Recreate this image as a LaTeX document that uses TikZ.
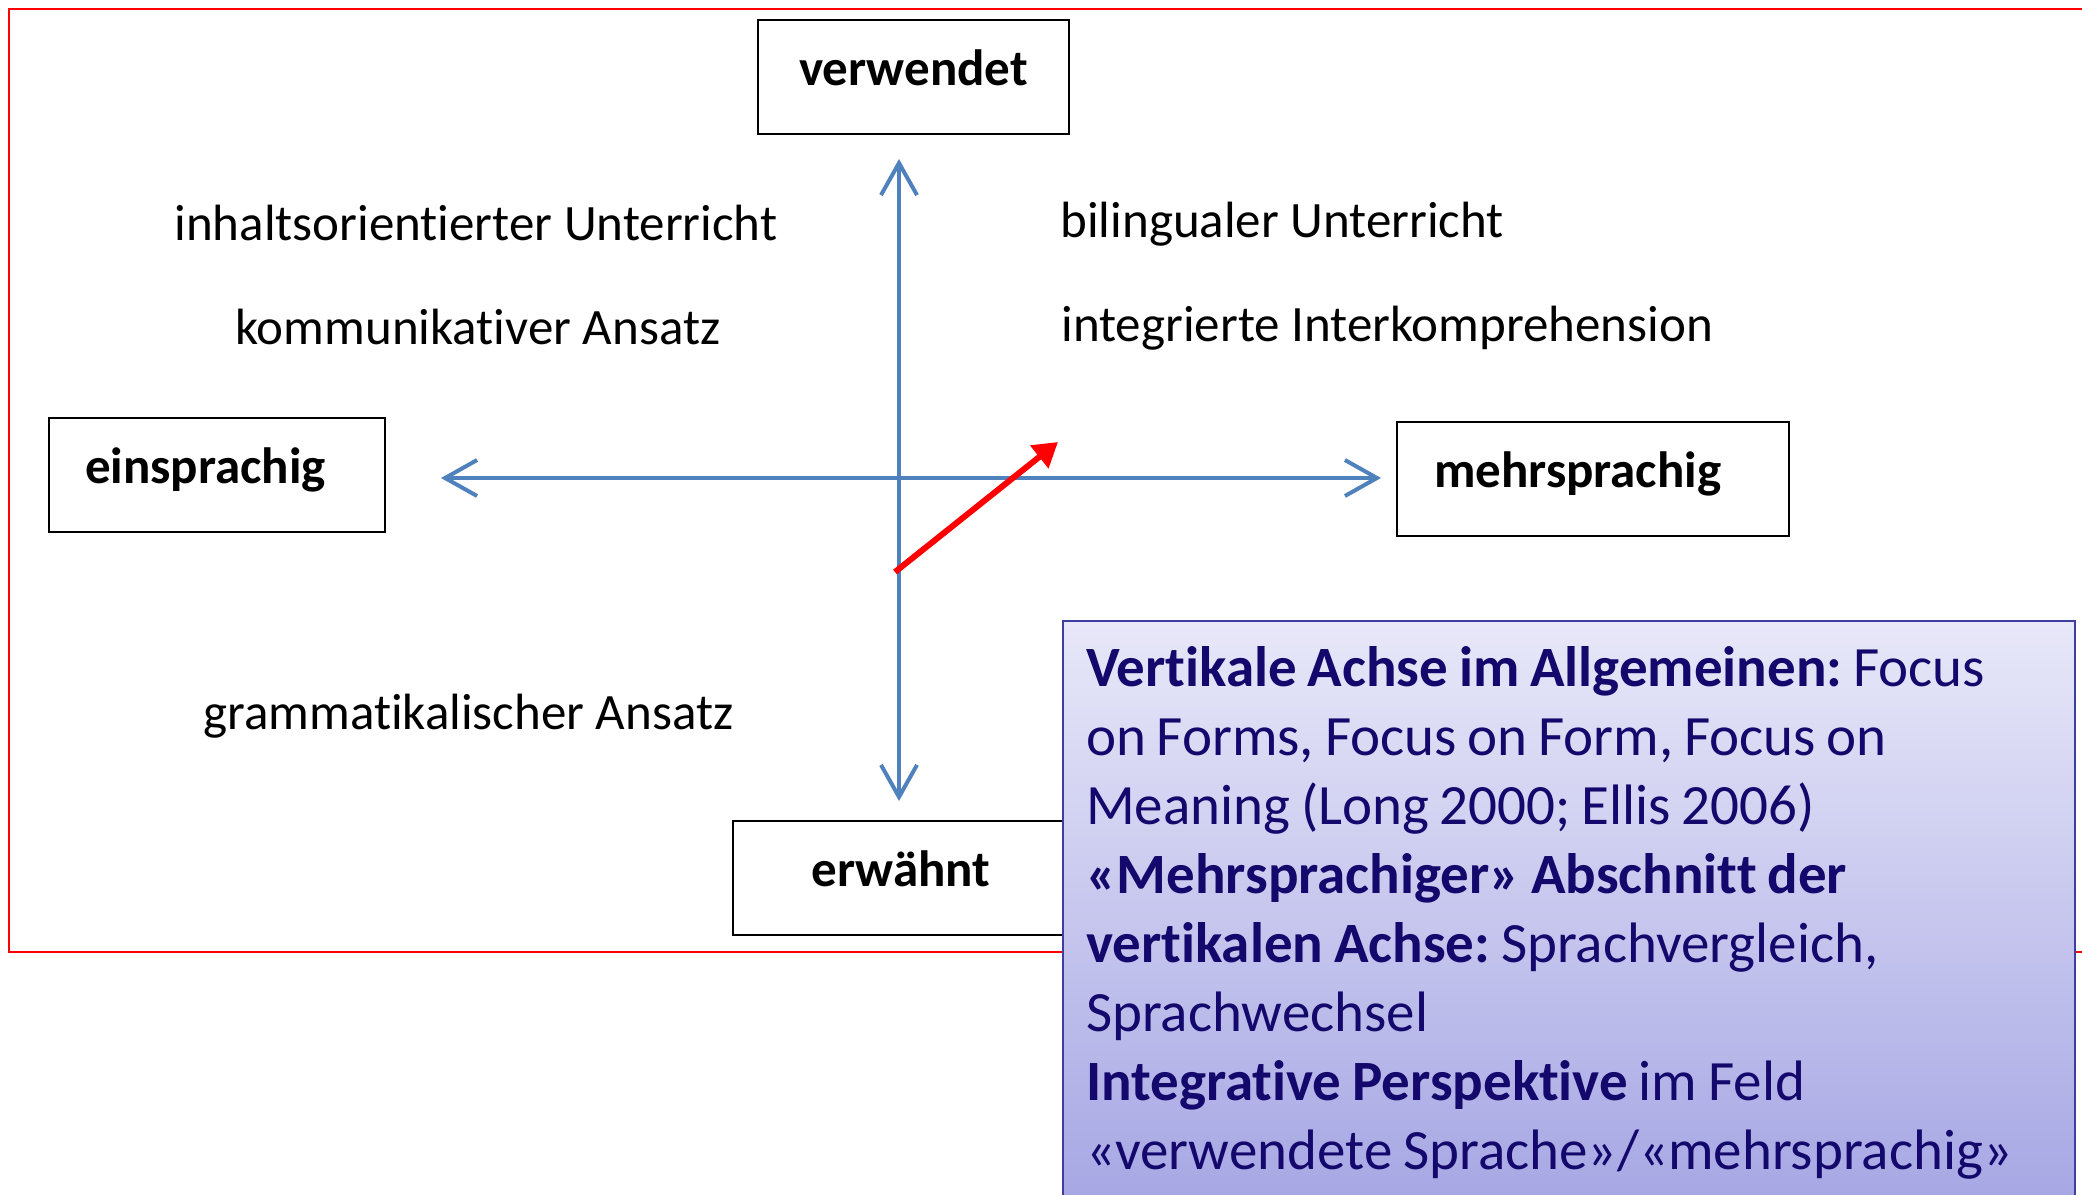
\documentclass[tikz,border=0pt]{standalone}
\usepackage{fontspec}
\setmainfont{Carlito}[Ligatures=NoCommon]
\usetikzlibrary{positioning, arrows.meta, calc}
\definecolor{axisblue}{RGB}{79,129,189}
\definecolor{notetext}{RGB}{20,8,108}
\definecolor{notetop}{RGB}{232,232,249}
\definecolor{notebottom}{RGB}{166,166,228}
\definecolor{noteborder}{RGB}{62,62,160}
\newcommand\notespacing{\spaceskip=0.19em plus 0.05em\relax}

\begin{document}
\frenchspacing
\begin{tikzpicture}[x=0.5pt, y=-0.5pt,
    pole/.style={draw=black, line width=1.2pt, minimum height=57pt, inner sep=0pt,
        text depth=9pt, font=\fontsize{25.5}{30}\selectfont\bfseries},
    lbl/.style={anchor=west, inner sep=0pt, font=\fontsize{25.5}{30}\selectfont},
    axis/.style={draw=axisblue, line width=2pt, {Straight Barb[length=16pt, width=18pt, line width=2pt]}-{Straight Barb[length=16pt, width=18pt, line width=2pt]}},
    note/.style={draw=noteborder, line width=1pt, top color=notetop, bottom color=notebottom,
        text=notetext, align=left, text width=483pt, inner xsep=11.5pt, inner ysep=0pt,
        minimum height=292pt, anchor=north west, font=\fontsize{28.5}{34.5}\selectfont}]
    \useasboundingbox (0,0) rectangle (2082,1194);

    % rahmen
    \draw[red, line width=1.2pt] (9,9) rectangle (2095,952);

    % pole der achsen
    \node[pole, minimum width=155.5pt] (verw) at (913.5,77) {verwendet};
    \node[pole, minimum width=168pt, text width=132pt, align=left] (einspr) at (217,475) {einsprachig};
    \node[pole, minimum width=196pt, text width=159pt, align=left] (mehrspr) at (1593,479) {mehrsprachig};
    \node[pole, minimum width=168pt] (erw) at (901,878) {erwähnt};

    % achsen
    \coordinate (vtop) at (899,159);
    \coordinate (vbot) at (899,801);
    \coordinate (hleft) at (441,478);
    \coordinate (hright) at (1381,478);
    \draw[axis] (vbot) -- (vtop);
    \draw[axis] (hleft) -- (hright);

    % roter pfeil
    \coordinate (rstart) at (895,572);
    \coordinate (rend) at (1058,442);
    \draw[red, line width=3pt, -{Triangle[length=12pt, width=14pt]}] (rstart) -- (rend);

    % ansaetze
    \node[lbl] (inhalt) at (174,223) {inhaltsorientierter Unterricht};
    \node[lbl] (komm) at (235,327) {kommunikativer Ansatz};
    \node[lbl] (biling) at (1060,224) {bilingualer Unterricht};
    \node[lbl] (interk) at (1061,328) {integrierte Interkomprehension};
    \node[lbl] (gramm) at (203,716) {grammatikalischer Ansatz};

    % erlaeuterung
    \node[note] (erl) at (1062,620) {\notespacing
        \textbf{Vertikale Achse im Allgemeinen:} Focus\\
        on Forms, Focus on Form, Focus on\\
        Meaning (Long 2000; Ellis 2006)\\
        \textbf{«Mehrsprachiger» Abschnitt der}\\
        \textbf{vertikalen Achse:} Sprachvergleich,\\
        Sprachwechsel\\
        \textbf{Integrative Perspektive} im Feld\\
        «verwendete Sprache»/«mehrsprachig»};
\end{tikzpicture}
\end{document}
